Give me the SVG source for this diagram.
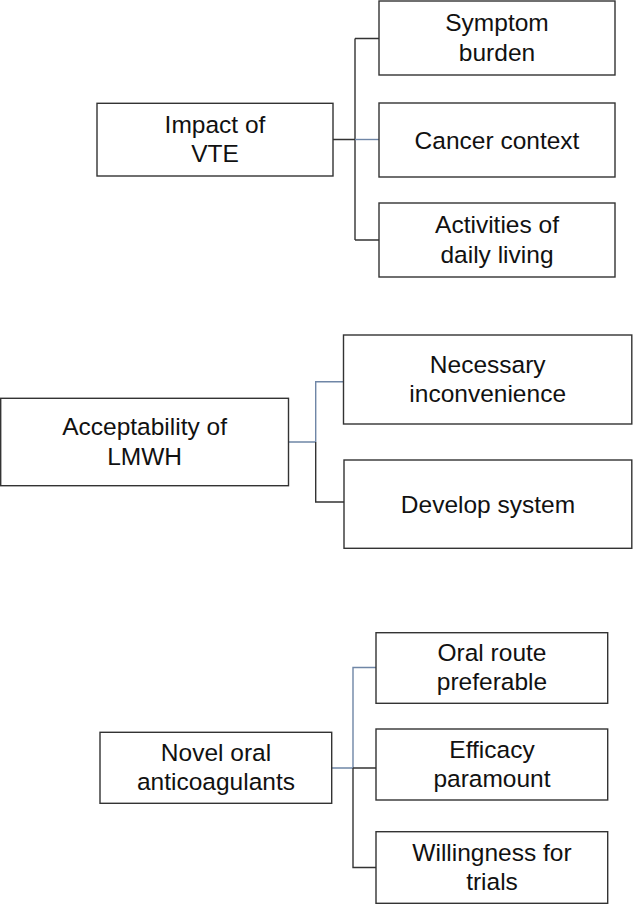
<svg xmlns="http://www.w3.org/2000/svg" width="633" height="904" viewBox="0 0 633 904">
<style>
.box{fill:#fff;stroke:#333;stroke-width:1.4}
.t{font-family:"Liberation Sans",Arial,sans-serif;font-size:24.5px;fill:#111;text-anchor:middle}
.d{fill:none;stroke:#333;stroke-width:1.4}
.b{fill:none;stroke:#6f86a6;stroke-width:1.4}
</style>
<rect width="633" height="904" fill="#fff"/>
<g id="connectors">
<path class="d" d="M333,139.5 H355 M355,38.5 V240 M355,38.5 H379 M355,240 H379"/>
<path class="b" d="M355,139.5 H379"/>
<path class="b" d="M288.5,442 H315.7 M315.7,442 V381.7 H343.5"/>
<path class="d" d="M315.7,442 V502 H344"/>
<path class="b" d="M331.7,768 H353 M353,768 V667.5 H376"/>
<path class="d" d="M353,768 H376 M353,768 V867.5 H376"/>
</g>
<g id="impact"><rect class="box" x="97" y="103.3" width="236" height="72.7"/><text class="t" x="215" y="132.7">Impact of</text><text class="t" x="215" y="162.3">VTE</text></g>
<g id="symptom"><rect class="box" x="379" y="1" width="236" height="74"/><text class="t" x="497" y="31">Symptom</text><text class="t" x="497" y="60.6">burden</text></g>
<g id="cancer"><rect class="box" x="379" y="103" width="236" height="74"/><text class="t" x="497" y="148.5">Cancer context</text></g>
<g id="activities"><rect class="box" x="379" y="203" width="236" height="74"/><text class="t" x="497" y="233.2">Activities of</text><text class="t" x="497" y="262.8">daily living</text></g>
<g id="acceptability"><rect class="box" x="0.7" y="398.3" width="287.8" height="87.4"/><text class="t" x="144.6" y="435">Acceptability of</text><text class="t" x="144.6" y="464.6">LMWH</text></g>
<g id="necessary"><rect class="box" x="343.5" y="335" width="288.3" height="89"/><text class="t" x="487.7" y="372.7">Necessary</text><text class="t" x="487.7" y="402.3">inconvenience</text></g>
<g id="develop"><rect class="box" x="344" y="460" width="287.8" height="88.3"/><text class="t" x="488" y="512.7">Develop system</text></g>
<g id="novel"><rect class="box" x="100" y="732.3" width="231.7" height="71"/><text class="t" x="216" y="760.5">Novel oral</text><text class="t" x="216" y="790.1">anticoagulants</text></g>
<g id="oral"><rect class="box" x="376" y="632.7" width="231.7" height="70.6"/><text class="t" x="492" y="660.8">Oral route</text><text class="t" x="492" y="690.4">preferable</text></g>
<g id="efficacy"><rect class="box" x="376" y="729" width="231.7" height="71"/><text class="t" x="492" y="757.5">Efficacy</text><text class="t" x="492" y="787.1">paramount</text></g>
<g id="willingness"><rect class="box" x="376" y="831.7" width="231.7" height="71.6"/><text class="t" x="492" y="860.5">Willingness for</text><text class="t" x="492" y="890.1">trials</text></g>
</svg>
